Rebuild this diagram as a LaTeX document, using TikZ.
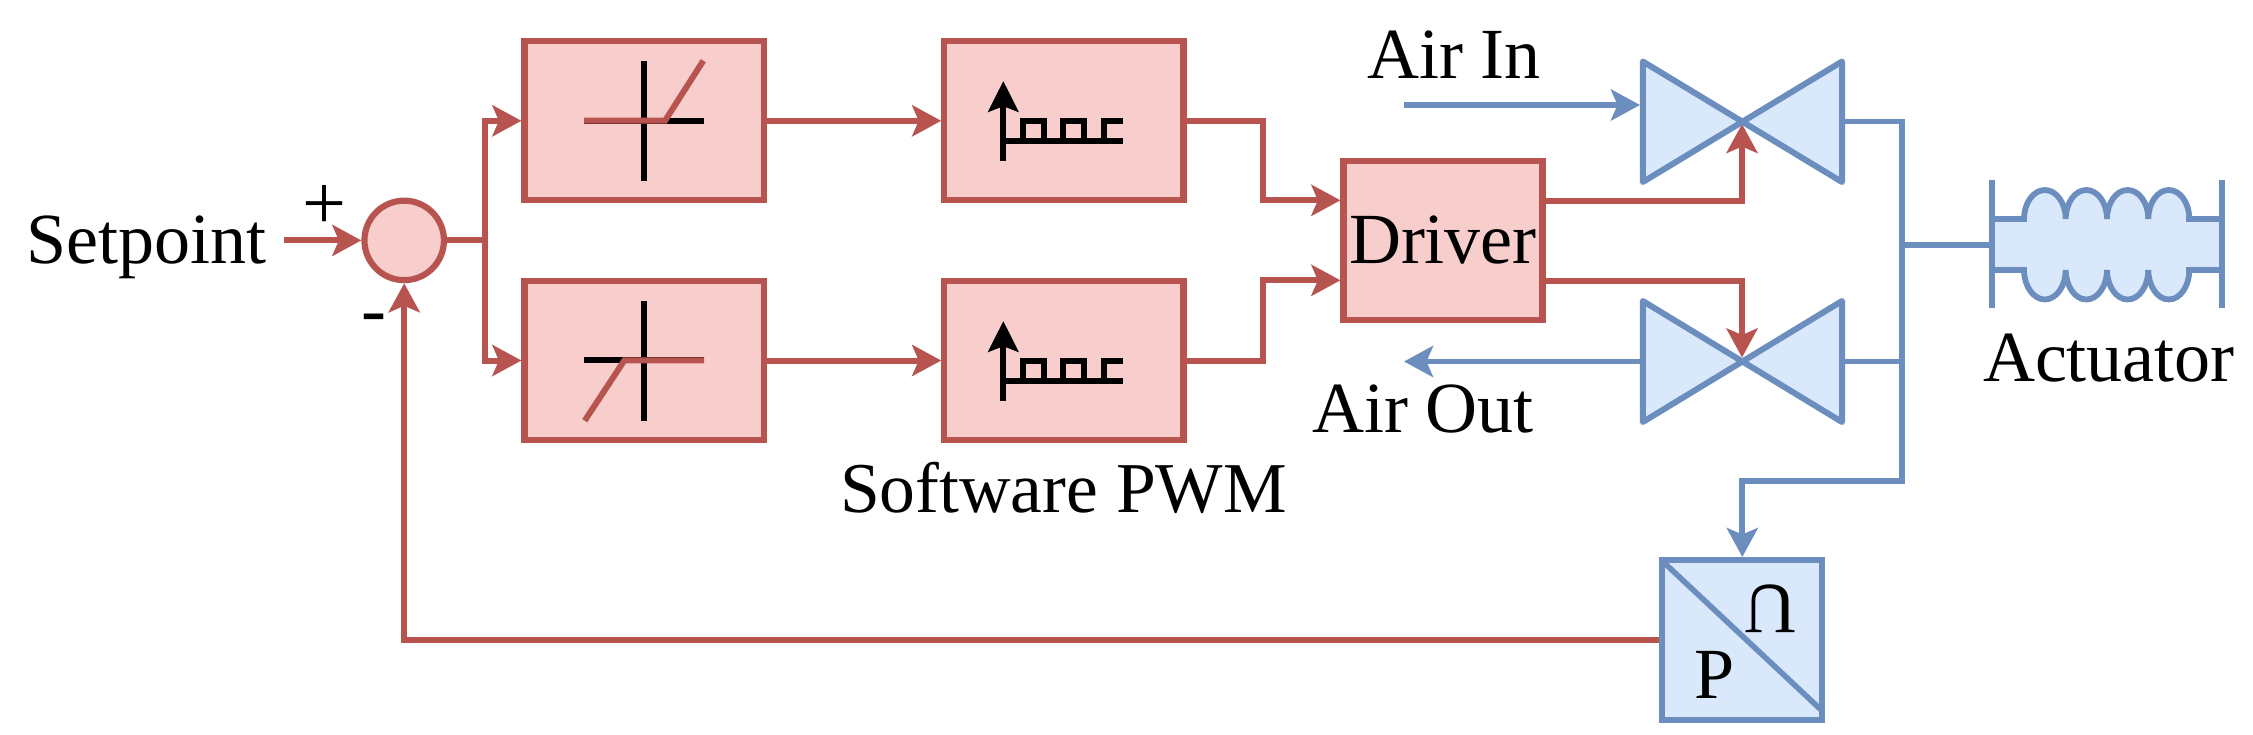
\documentclass[tikz,border=0pt]{standalone}
\usepackage{fontspec}
\setmainfont{Liberation Serif}
\usetikzlibrary{arrows.meta,calc}
\definecolor{redline}{HTML}{B85450}
\definecolor{redfill}{HTML}{F8CECC}
\definecolor{blueline}{HTML}{6C8EBF}
\definecolor{bluefill}{HTML}{DAE8FC}
\tikzset{
  x=1pt,y=-1pt,
  txt/.style={font=\fontsize{72}{80}\selectfont,inner sep=0pt,outer sep=0pt,text=black},
  labeltxt/.style={txt,anchor=base west},
  redbox/.style={draw=redline,fill=redfill,line width=6.2pt,rectangle,inner sep=0pt},
  ctrlbox/.style={redbox,minimum width=239.2pt,minimum height=159pt},
  redflow/.style={draw=redline,line width=6pt,miter limit=10},
  blueflow/.style={draw=blueline,line width=5.8pt},
  tipped/.style={-{Stealth[length=29pt,width=31pt,inset=6.5pt]}},
  valvefill/.style={fill=bluefill},
  valveline/.style={draw=blueline,line width=6pt,line join=round},
  iconline/.style={draw=black,line width=6pt},
  iconred/.style={draw=redline,line width=6pt},
}
\begin{document}
\begin{tikzpicture}
\useasboundingbox (0,0) rectangle (2253,734);
% valve fills first
\coordinate (v1) at (1742,124);
\coordinate (v2) at (1742,357.5);
\fill[valvefill] (1642.8,61.5) -- (1842,182) -- (1842,61.5) -- (1642.8,182) -- cycle;
\fill[valvefill] (1642.8,301) -- (1842,422) -- (1842,301) -- (1642.8,422) -- cycle;
\coordinate (v1L) at (1640,105);
\coordinate (v1R) at (1842,121.5);
\coordinate (v2L) at (1640,361.5);
\coordinate (v2R) at (1842,361.5);
% boxes
\node[ctrlbox] (dz1) at (644.1,120.8) {};
\node[ctrlbox] (dz2) at (644.1,360.5) {};
\node[ctrlbox] (pwm1) at (1063.9,120.8) {};
\node[ctrlbox] (pwm2) at (1063.9,360.5) {};
\node[redbox,minimum width=199pt,minimum height=159pt] (drv) at (1443,240.8) {};
\node[labeltxt] (drvt) at (1349,263.3) {Driver};
\node[redbox,circle,minimum size=79.5pt] (sum) at (404.2,240.4) {};
\node[draw=blueline,fill=bluefill,line width=6pt,rectangle,inner sep=0pt,minimum width=160pt,minimum height=160pt] (pu) at (1742.3,640) {};
\coordinate (diagA) at ($(pu.north west)+(3,4)$);
\coordinate (diagB) at ($(pu.south east)+(-3,-12)$);
\draw[draw=blueline,line width=5.6pt] (diagA) -- (diagB);
\node[labeltxt] (pp) at (1694.3,698.3) {P};
\node[txt,rotate=180] (uu) at (1770.3,608.5) {U};
% labels
\node[labeltxt] (sp) at (26,263.3) {Setpoint};
\node[labeltxt,font=\fontsize{78}{80}\selectfont] (plus) at (302.2,229.5) {+};
\node[labeltxt,font=\fontsize{75}{80}\selectfont] (minus) at (361.5,334.7) {-};
\node[labeltxt] (airin) at (1367,78.3) {Air In};
\node[labeltxt] (airout) at (1312,432) {Air Out};
\node[labeltxt,font=\fontsize{71.5}{80}\selectfont] (swpwm) at (840,512) {Software PWM};
\node[labeltxt] (act) at (1983,381) {Actuator};
% deadzone icons
\draw[iconline] (644,60.7) -- (644,181);
\draw[iconline] (584,120.7) -- (704,120.7);
\draw[iconred] (584,120.7) -- (665,120.7) -- (703.3,60.7);
\draw[iconline] (644,300.7) -- (644,420.7);
\draw[iconline] (584,360.3) -- (704,360.3);
\draw[iconred] (704,360.3) -- (624.4,360.3) -- (584.7,420.7);
% pwm icons
\foreach \dy in {0,240}{
  \draw[iconline,-{Stealth[length=30.7pt,width=30pt,inset=5.5pt]}] (1003.3,160.7+\dy) -- (1003.3,81+\dy);
  \draw[iconline] (1003.3,140.7+\dy) -- (1123.3,140.7+\dy);
  \draw[iconline] (1023.3,140.7+\dy) -- (1023.3,120.5+\dy) -- (1044,120.5+\dy) -- (1044,140.7+\dy);
  \draw[iconline] (1063.4,140.7+\dy) -- (1063.4,120.5+\dy) -- (1083.7,120.5+\dy) -- (1083.7,140.7+\dy);
  \draw[iconline] (1103.8,140.7+\dy) -- (1103.8,120.5+\dy) -- (1123.3,120.5+\dy);
}
% red connectors
\coordinate (spout) at (284.3,240.4);
\coordinate (bra) at (484.5,240.4);
\draw[redflow,tipped] (spout) -- (sum.west);
\draw[redflow] (sum.east) -- (bra);
\draw[redflow,tipped] (bra) |- (dz1.west);
\draw[redflow,tipped] (bra) |- (dz2.west);
\draw[redflow,tipped] (dz1.east) -- (pwm1.west);
\draw[redflow,tipped] (dz2.east) -- (pwm2.west);
\coordinate (d1) at ($(drv.west)+(0,-40.5)$);
\coordinate (d2) at ($(drv.west)+(0,39.5)$);
\draw[redflow,tipped] (pwm1.east) -- (1263,120.8) |- (d1);
\draw[redflow,tipped] (pwm2.east) -- (1263,360.5) |- (d2);
\coordinate (d3) at ($(drv.east)+(0,-40)$);
\coordinate (d4) at ($(drv.east)+(0,40)$);
\draw[redflow,tipped] (d3) -| (v1);
\draw[redflow,tipped] (d4) -| (v2);
\draw[redflow,tipped] (pu.west) -| (sum.south);
% valve outlines
\draw[valveline] (1642.8,61.5) -- (1842,182) -- (1842,61.5) -- (1642.8,182) -- cycle;
\draw[valveline] (1642.8,301) -- (1842,422) -- (1842,301) -- (1642.8,422) -- cycle;
% blue connectors
\coordinate (ainS) at (1404,105);
\coordinate (aoutE) at (1404,361.5);
\draw[blueflow,tipped] (ainS) -- (v1L);
\draw[blueflow,tipped] (v2L) -- (aoutE);
\coordinate (bus1) at (1902,121.5);
\coordinate (bus2) at (1902,481);
\coordinate (actL) at (1992,244.6);
\draw[blueflow,miter limit=10] (v1R) -- (bus1) -- (bus2) -- (1742.3,481) -- (1742.3,520);
\draw[blueflow,tipped] (1742.3,478) -- (pu.north);
\draw[blueflow] (v2R) -- (1904.9,361.5);
\draw[blueflow] (1902,244.6) -- (actL);
% actuator
\fill[bluefill] (1992,219) rectangle (2221.7,270);
\foreach \a/\m/\b in {2024/2044.8/2065.7,2065.7/2086.3/2107,2107/2127.6/2148.3,2148.3/2168.8/2189.3}{
  \fill[bluefill] (\a,221) -- (\a,219) .. controls (\a,203) and (\m-11.4,190) .. (\m,190) .. controls (\m+11.4,190) and (\b,203) .. (\b,219) -- (\b,221) -- cycle;
  \fill[bluefill] (\a,268) -- (\a,270) .. controls (\a,286) and (\m-11.4,299.5) .. (\m,299.5) .. controls (\m+11.4,299.5) and (\b,286) .. (\b,270) -- (\b,268) -- cycle;
  \draw[blueflow] (\a,219) .. controls (\a,203) and (\m-11.4,190) .. (\m,190) .. controls (\m+11.4,190) and (\b,203) .. (\b,219);
  \draw[blueflow] (\a,270) .. controls (\a,286) and (\m-11.4,299.5) .. (\m,299.5) .. controls (\m+11.4,299.5) and (\b,286) .. (\b,270);
}
\draw[blueflow] (1992,219) -- (2026.9,219);
\draw[blueflow] (2186.4,219) -- (2221.7,219);
\draw[blueflow] (1992,270) -- (2026.9,270);
\draw[blueflow] (2186.4,270) -- (2221.7,270);
\draw[blueflow] (1992,180) -- (1992,308);
\draw[blueflow] (2221.7,180) -- (2221.7,308);
\end{tikzpicture}
\end{document}
